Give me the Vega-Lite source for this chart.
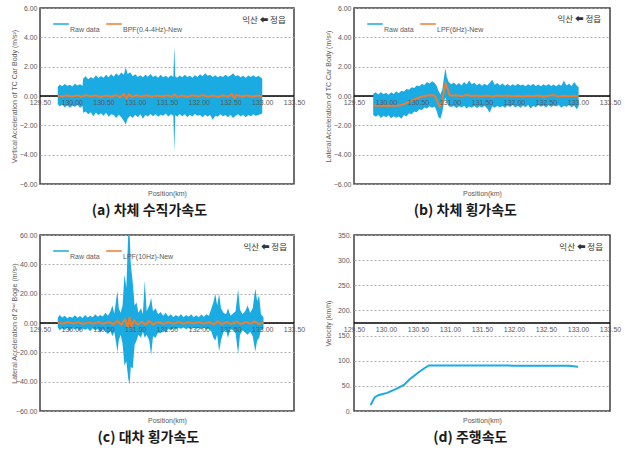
{
"$schema": "https://vega.github.io/schema/vega-lite/v6.json",
"background": "white",
"padding": {"left": 9, "top": 3, "right": 0, "bottom": 0},
"config": {
  "view": {"stroke": "#404040", "strokeWidth": 1.5},
  "font": "Liberation Sans",
  "axis": {"labelFont": "Liberation Sans", "labelFontSize": 7, "labelColor": "#595959", "titleFont": "Liberation Sans", "titleFontSize": 7, "titleColor": "#595959", "titleFontWeight": "normal", "ticks": false, "domain": false, "labelOverlap": false, "labelFlush": false, "labelBound": false, "tickCount": 30, "gridColor": "#a8a8a8", "gridDash": [2, 2], "gridWidth": 0.9},
  "axisX": {"grid": false, "zindex": 1, "offset": -88, "labelPadding": 2, "titleY": 97, "titleBaseline": "middle"},
  "axisY": {"labelPadding": 3, "titleX": -26, "titleBaseline": "middle"},
  "legend": {"orient": "none", "legendX": 13, "legendY": 8, "direction": "horizontal", "title": null, "padding": 0, "symbolType": "M-1,-0.07H1V0.07H-1Z", "symbolSize": 225, "symbolStrokeWidth": 0.5, "labelFont": "Liberation Sans", "labelFontSize": 7, "labelColor": "#595959", "labelOffset": 1, "columnPadding": 5},
  "title": {"font": "Noto Sans CJK KR", "fontSize": 14, "fontWeight": "bold", "color": "#1a1a1a", "orient": "bottom", "offset": 8, "frame": "bounds", "anchor": "middle"},
  "text": {"font": "Noto Sans CJK KR", "fontSize": 8.5, "color": "#333333"}
},
"columns": 2,
"spacing": {"row": 51, "column": 60},
"bounds": "flush",
"resolve": {"scale": {"color": "independent"}, "legend": {"color": "independent"}},
"concat": [
  {
   "width": 254, "height": 176,
   "title": {"text": "(a) 차체 수직가속도", "dx": -8},
   "layer": [
    {"data": {"values": [{"z": 0}]}, "mark": {"type": "rule", "color": "#000000", "strokeWidth": 1.5}, "encoding": {"y": {"field": "z", "type": "quantitative"}}},
    {
     "data": {"values": [
      {"x":129.78,"hi":0.62,"lo":-0.55},{"x":129.81,"hi":0.78,"lo":-0.72},{"x":129.85,"hi":0.66,"lo":-0.60},{"x":129.89,"hi":0.82,"lo":-0.78},{"x":129.93,"hi":0.70,"lo":-0.64},{"x":129.97,"hi":0.76,"lo":-0.80},{"x":130.01,"hi":0.64,"lo":-0.66},{"x":130.05,"hi":0.84,"lo":-0.74},{"x":130.09,"hi":0.72,"lo":-0.62},{"x":130.13,"hi":0.80,"lo":-0.80},{"x":130.17,"hi":0.70,"lo":-0.68},
      {"x":130.18,"hi":1.20,"lo":-1.15},{"x":130.22,"hi":1.35,"lo":-1.05},{"x":130.26,"hi":1.15,"lo":-1.25},{"x":130.30,"hi":1.30,"lo":-1.10},{"x":130.34,"hi":1.18,"lo":-1.40},{"x":130.38,"hi":1.42,"lo":-1.12},{"x":130.42,"hi":1.22,"lo":-1.30},{"x":130.46,"hi":1.36,"lo":-1.18},{"x":130.50,"hi":1.25,"lo":-1.35},{"x":130.54,"hi":1.45,"lo":-1.15},{"x":130.58,"hi":1.28,"lo":-1.42},{"x":130.62,"hi":1.50,"lo":-1.25},{"x":130.66,"hi":1.32,"lo":-1.30},{"x":130.70,"hi":1.55,"lo":-1.50},{"x":130.74,"hi":1.38,"lo":-1.28},{"x":130.78,"hi":1.60,"lo":-1.45},{"x":130.82,"hi":1.45,"lo":-1.70},{"x":130.85,"hi":1.95,"lo":-1.95},{"x":130.88,"hi":1.50,"lo":-1.55},{"x":130.92,"hi":1.62,"lo":-1.35},{"x":130.96,"hi":1.35,"lo":-1.50},
      {"x":131.00,"hi":1.48,"lo":-1.28},{"x":131.04,"hi":1.30,"lo":-1.45},{"x":131.08,"hi":1.42,"lo":-1.25},{"x":131.12,"hi":1.28,"lo":-1.55},{"x":131.16,"hi":1.45,"lo":-1.30},{"x":131.20,"hi":1.32,"lo":-1.40},{"x":131.24,"hi":1.50,"lo":-1.22},{"x":131.28,"hi":1.30,"lo":-1.38},{"x":131.32,"hi":1.40,"lo":-1.25},{"x":131.36,"hi":1.25,"lo":-1.42},{"x":131.40,"hi":1.45,"lo":-1.28},{"x":131.44,"hi":1.28,"lo":-1.35},{"x":131.48,"hi":1.38,"lo":-1.20},{"x":131.52,"hi":1.25,"lo":-1.40},{"x":131.56,"hi":1.42,"lo":-1.25},{"x":131.60,"hi":1.30,"lo":-1.35},{"x":131.615,"hi":3.40,"lo":-3.80},{"x":131.63,"hi":1.35,"lo":-1.30},{"x":131.66,"hi":1.25,"lo":-1.42},{"x":131.70,"hi":1.40,"lo":-1.22},{"x":131.74,"hi":1.28,"lo":-1.38},{"x":131.78,"hi":1.45,"lo":-1.25},{"x":131.82,"hi":1.30,"lo":-1.45},{"x":131.86,"hi":1.38,"lo":-1.28},{"x":131.90,"hi":1.25,"lo":-1.40},{"x":131.94,"hi":1.42,"lo":-1.22},{"x":131.98,"hi":1.30,"lo":-1.35},
      {"x":132.02,"hi":1.48,"lo":-1.30},{"x":132.06,"hi":1.35,"lo":-1.45},{"x":132.10,"hi":1.55,"lo":-1.28},{"x":132.14,"hi":1.38,"lo":-1.40},{"x":132.18,"hi":1.45,"lo":-1.30},{"x":132.22,"hi":1.30,"lo":-1.62},{"x":132.26,"hi":1.42,"lo":-1.35},{"x":132.30,"hi":1.28,"lo":-1.42},{"x":132.34,"hi":1.38,"lo":-1.25},{"x":132.38,"hi":1.30,"lo":-1.38},{"x":132.42,"hi":1.45,"lo":-1.30},{"x":132.46,"hi":1.32,"lo":-1.45},{"x":132.50,"hi":1.40,"lo":-1.28},{"x":132.54,"hi":1.55,"lo":-1.50},{"x":132.58,"hi":1.35,"lo":-1.35},{"x":132.62,"hi":1.42,"lo":-1.25},{"x":132.66,"hi":1.28,"lo":-1.40},{"x":132.70,"hi":1.38,"lo":-1.28},{"x":132.74,"hi":1.25,"lo":-1.45},{"x":132.78,"hi":1.40,"lo":-1.30},{"x":132.82,"hi":1.30,"lo":-1.38},{"x":132.86,"hi":1.42,"lo":-1.25},{"x":132.90,"hi":1.28,"lo":-1.35},{"x":132.94,"hi":1.38,"lo":-1.30},{"x":132.98,"hi":1.25,"lo":-1.22},{"x":133.00,"hi":1.20,"lo":-1.18}
     ]},
     "mark": {"type": "area", "clip": true},
     "encoding": {
      "x": {"field": "x", "type": "quantitative", "scale": {"domain": [129.5, 133.5], "nice": false, "zero": false}, "axis": {"values": [129.5,130,130.5,131,131.5,132,132.5,133,133.5], "tickCount": 30, "zindex": 2, "format": ".2f", "labelOverlap": false, "title": "Position(km)"}},
      "y": {"field": "hi", "type": "quantitative", "scale": {"domain": [-6, 6], "nice": false}, "axis": {"values": [-6,-4,-2,0,2,4,6], "tickCount": 30, "format": ".2f", "labelOverlap": false, "title": "Vertical Acceleration of TC Car Body (m/s²)"}},
      "y2": {"field": "lo"},
      "color": {"datum": "Raw data", "scale": {"domain": ["Raw data", "BPF(0.4-4Hz)-New"], "range": ["#1aabe3", "#ee7d31"]}, "legend": {"encode": {"labels": {"update": {"dy": {"value": 6}}}}}}
     }
    },
    {
     "data": {"values": [
      {"x":129.78,"y":0.03},{"x":129.85,"y":-0.04},{"x":129.92,"y":0.05},{"x":130.00,"y":-0.03},{"x":130.08,"y":0.04},{"x":130.15,"y":-0.05},{"x":130.22,"y":0.06},{"x":130.30,"y":-0.04},{"x":130.38,"y":0.05},{"x":130.46,"y":-0.06},{"x":130.54,"y":0.04},{"x":130.62,"y":-0.05},{"x":130.70,"y":0.07},{"x":130.76,"y":-0.08},{"x":130.82,"y":0.14},{"x":130.86,"y":-0.16},{"x":130.90,"y":0.12},{"x":130.95,"y":-0.06},{"x":131.02,"y":0.05},{"x":131.10,"y":-0.04},{"x":131.18,"y":0.05},{"x":131.26,"y":-0.05},{"x":131.34,"y":0.04},{"x":131.42,"y":-0.04},{"x":131.50,"y":0.05},{"x":131.58,"y":-0.05},{"x":131.62,"y":0.12},{"x":131.66,"y":-0.06},{"x":131.74,"y":0.04},{"x":131.82,"y":-0.05},{"x":131.90,"y":0.05},{"x":131.98,"y":-0.04},{"x":132.06,"y":0.06},{"x":132.14,"y":-0.05},{"x":132.22,"y":0.04},{"x":132.30,"y":-0.06},{"x":132.38,"y":0.05},{"x":132.46,"y":-0.05},{"x":132.52,"y":0.14},{"x":132.56,"y":-0.12},{"x":132.60,"y":0.08},{"x":132.68,"y":-0.04},{"x":132.76,"y":0.05},{"x":132.84,"y":-0.05},{"x":132.92,"y":0.04},{"x":133.00,"y":-0.02}
     ]},
     "mark": {"type": "line", "strokeWidth": 2, "clip": true},
     "encoding": {
      "x": {"field": "x", "type": "quantitative"},
      "y": {"field": "y", "type": "quantitative"},
      "color": {"datum": "BPF(0.4-4Hz)-New"}
     }
    },
    {"data": {"values": [{"x": 133.37, "y": 5.2, "t": "익산 ⬅ 정읍"}]}, "mark": {"type": "text", "align": "right", "baseline": "middle"}, "encoding": {"x": {"field": "x", "type": "quantitative"}, "y": {"field": "y", "type": "quantitative"}, "text": {"field": "t"}}}
   ]
  },
  {
   "width": 256, "height": 176,
   "title": {"text": "(b) 차체 횡가속도", "dx": -7},
   "layer": [
    {"data": {"values": [{"z": 0}]}, "mark": {"type": "rule", "color": "#000000", "strokeWidth": 1.5}, "encoding": {"y": {"field": "z", "type": "quantitative"}}},
    {
     "data": {"values": [
      {"x":129.80,"hi":0.15,"lo":-1.30},{"x":129.84,"hi":0.25,"lo":-1.42},{"x":129.88,"hi":0.10,"lo":-1.30},{"x":129.92,"hi":0.28,"lo":-1.50},{"x":129.96,"hi":0.12,"lo":-1.35},{"x":130.00,"hi":0.22,"lo":-1.45},{"x":130.04,"hi":0.08,"lo":-1.32},{"x":130.08,"hi":0.26,"lo":-1.52},{"x":130.12,"hi":0.14,"lo":-1.38},{"x":130.16,"hi":0.30,"lo":-1.48},{"x":130.20,"hi":0.18,"lo":-1.40},{"x":130.24,"hi":0.35,"lo":-1.55},{"x":130.28,"hi":0.30,"lo":-1.30},{"x":130.32,"hi":0.48,"lo":-1.40},{"x":130.36,"hi":0.42,"lo":-1.18},{"x":130.40,"hi":0.60,"lo":-1.25},{"x":130.44,"hi":0.55,"lo":-1.05},{"x":130.48,"hi":0.72,"lo":-1.10},{"x":130.52,"hi":0.66,"lo":-0.90},{"x":130.56,"hi":0.82,"lo":-0.98},{"x":130.60,"hi":0.75,"lo":-0.78},{"x":130.64,"hi":0.95,"lo":-0.85},{"x":130.68,"hi":0.85,"lo":-0.70},{"x":130.72,"hi":1.00,"lo":-0.80},{"x":130.76,"hi":0.88,"lo":-0.72},{"x":130.79,"hi":0.70,"lo":-1.00},{"x":130.82,"hi":0.35,"lo":-1.45},{"x":130.85,"hi":0.10,"lo":-1.55},{"x":130.88,"hi":0.45,"lo":-1.10},{"x":130.91,"hi":1.40,"lo":-0.30},{"x":130.93,"hi":1.90,"lo":-0.10},{"x":130.95,"hi":1.30,"lo":-0.40},{"x":130.98,"hi":0.95,"lo":-0.70},
      {"x":131.02,"hi":0.80,"lo":-0.75},{"x":131.06,"hi":0.92,"lo":-0.68},{"x":131.10,"hi":0.75,"lo":-0.82},{"x":131.14,"hi":0.88,"lo":-0.70},{"x":131.18,"hi":0.72,"lo":-0.78},{"x":131.22,"hi":0.95,"lo":-0.66},{"x":131.26,"hi":0.78,"lo":-0.85},{"x":131.30,"hi":1.05,"lo":-0.72},{"x":131.34,"hi":0.80,"lo":-0.80},{"x":131.38,"hi":0.90,"lo":-0.68},{"x":131.42,"hi":0.74,"lo":-0.82},{"x":131.46,"hi":0.86,"lo":-0.70},{"x":131.50,"hi":0.70,"lo":-0.78},{"x":131.54,"hi":0.84,"lo":-0.66},{"x":131.58,"hi":0.72,"lo":-0.85},{"x":131.62,"hi":0.90,"lo":-1.15},{"x":131.66,"hi":1.10,"lo":-0.70},{"x":131.70,"hi":0.76,"lo":-0.80},{"x":131.74,"hi":0.88,"lo":-0.66},{"x":131.78,"hi":0.72,"lo":-0.78},{"x":131.82,"hi":0.85,"lo":-0.68},{"x":131.86,"hi":0.70,"lo":-0.80},{"x":131.90,"hi":0.82,"lo":-0.65},{"x":131.94,"hi":0.68,"lo":-0.75},{"x":131.98,"hi":0.80,"lo":-0.62},
      {"x":132.02,"hi":0.70,"lo":-0.78},{"x":132.06,"hi":0.84,"lo":-0.66},{"x":132.10,"hi":0.72,"lo":-0.80},{"x":132.14,"hi":0.78,"lo":-0.64},{"x":132.18,"hi":0.66,"lo":-0.76},{"x":132.22,"hi":0.80,"lo":-0.62},{"x":132.26,"hi":0.70,"lo":-0.85},{"x":132.30,"hi":0.84,"lo":-0.66},{"x":132.34,"hi":0.68,"lo":-0.76},{"x":132.38,"hi":0.78,"lo":-0.62},{"x":132.42,"hi":0.66,"lo":-0.74},{"x":132.46,"hi":0.80,"lo":-0.64},{"x":132.50,"hi":0.70,"lo":-0.78},{"x":132.54,"hi":0.82,"lo":-0.62},{"x":132.58,"hi":0.68,"lo":-0.75},{"x":132.62,"hi":0.78,"lo":-0.64},{"x":132.66,"hi":0.66,"lo":-0.72},{"x":132.70,"hi":0.80,"lo":-0.62},{"x":132.74,"hi":0.70,"lo":-0.80},{"x":132.78,"hi":1.05,"lo":-0.66},{"x":132.82,"hi":0.72,"lo":-0.74},{"x":132.86,"hi":0.84,"lo":-0.62},{"x":132.90,"hi":0.68,"lo":-0.76},{"x":132.94,"hi":0.95,"lo":-0.64},{"x":132.98,"hi":0.72,"lo":-0.90},{"x":133.01,"hi":0.60,"lo":-0.70}
     ]},
     "mark": {"type": "area", "clip": true},
     "encoding": {
      "x": {"field": "x", "type": "quantitative", "scale": {"domain": [129.5, 133.5], "nice": false, "zero": false}, "axis": {"values": [129.5,130,130.5,131,131.5,132,132.5,133,133.5], "tickCount": 30, "zindex": 2, "format": ".2f", "labelOverlap": false, "title": "Position(km)"}},
      "y": {"field": "hi", "type": "quantitative", "scale": {"domain": [-6, 6], "nice": false}, "axis": {"values": [-6,-4,-2,0,2,4,6], "tickCount": 30, "format": ".2f", "labelOverlap": false, "title": "Lateral Acceleration of TC Car Body (m/s²)"}},
      "y2": {"field": "lo"},
      "color": {"datum": "Raw data", "scale": {"domain": ["Raw data", "LPF(6Hz)-New"], "range": ["#1aabe3", "#ee7d31"]}, "legend": {"encode": {"labels": {"update": {"dy": {"value": 6}}}}}}
     }
    },
    {
     "data": {"values": [
      {"x":129.80,"y":-0.65},{"x":129.90,"y":-0.66},{"x":130.00,"y":-0.64},{"x":130.10,"y":-0.66},{"x":130.20,"y":-0.64},{"x":130.25,"y":-0.60},{"x":130.30,"y":-0.52},{"x":130.35,"y":-0.42},{"x":130.40,"y":-0.32},{"x":130.45,"y":-0.22},{"x":130.50,"y":-0.14},{"x":130.55,"y":-0.06},{"x":130.60,"y":0.00},{"x":130.65,"y":0.03},{"x":130.70,"y":0.05},{"x":130.75,"y":0.04},{"x":130.78,"y":-0.10},{"x":130.81,"y":-0.45},{"x":130.84,"y":-0.72},{"x":130.87,"y":-0.55},{"x":130.90,"y":0.20},{"x":130.93,"y":0.85},{"x":130.96,"y":0.55},{"x":130.99,"y":0.10},{"x":131.02,"y":0.02},{"x":131.10,"y":0.05},{"x":131.18,"y":-0.02},{"x":131.26,"y":0.06},{"x":131.34,"y":0.00},{"x":131.42,"y":0.04},{"x":131.50,"y":-0.02},{"x":131.58,"y":0.03},{"x":131.66,"y":-0.03},{"x":131.74,"y":0.04},{"x":131.82,"y":0.00},{"x":131.90,"y":0.03},{"x":131.98,"y":-0.02},{"x":132.06,"y":0.02},{"x":132.14,"y":-0.03},{"x":132.22,"y":0.02},{"x":132.30,"y":-0.02},{"x":132.38,"y":0.03},{"x":132.46,"y":-0.03},{"x":132.54,"y":0.02},{"x":132.62,"y":0.06},{"x":132.70,"y":-0.03},{"x":132.78,"y":0.02},{"x":132.86,"y":-0.02},{"x":132.94,"y":0.02},{"x":133.01,"y":-0.02}
     ]},
     "mark": {"type": "line", "strokeWidth": 2, "clip": true},
     "encoding": {
      "x": {"field": "x", "type": "quantitative"},
      "y": {"field": "y", "type": "quantitative"},
      "color": {"datum": "LPF(6Hz)-New"}
     }
    },
    {"data": {"values": [{"x": 133.36, "y": 5.23, "t": "익산 ⬅ 정읍"}]}, "mark": {"type": "text", "align": "right", "baseline": "middle"}, "encoding": {"x": {"field": "x", "type": "quantitative"}, "y": {"field": "y", "type": "quantitative"}, "text": {"field": "t"}}}
   ]
  },
  {
   "width": 254, "height": 176,
   "title": {"text": "(c) 대차 횡가속도", "dx": -9},
   "layer": [
    {"data": {"values": [{"z": 0}]}, "mark": {"type": "rule", "color": "#000000", "strokeWidth": 1.5}, "encoding": {"y": {"field": "z", "type": "quantitative"}}},
    {
     "data": {"values": [
      {"x":129.78,"hi":3.5,"lo":-3.0},{"x":129.81,"hi":5.5,"lo":-5.0},{"x":129.85,"hi":3.8,"lo":-3.5},{"x":129.89,"hi":5.0,"lo":-4.8},{"x":129.93,"hi":3.2,"lo":-3.2},{"x":129.97,"hi":4.5,"lo":-5.5},{"x":130.01,"hi":3.5,"lo":-3.4},{"x":130.05,"hi":5.2,"lo":-4.5},{"x":130.09,"hi":3.6,"lo":-3.6},{"x":130.13,"hi":4.8,"lo":-5.2},{"x":130.17,"hi":3.4,"lo":-3.5},{"x":130.21,"hi":5.5,"lo":-4.6},{"x":130.25,"hi":3.8,"lo":-3.8},{"x":130.29,"hi":5.0,"lo":-5.6},{"x":130.33,"hi":4.0,"lo":-3.6},{"x":130.37,"hi":6.0,"lo":-5.0},{"x":130.41,"hi":4.2,"lo":-4.0},{"x":130.45,"hi":5.5,"lo":-6.5},{"x":130.49,"hi":4.5,"lo":-4.2},{"x":130.53,"hi":7.0,"lo":-6.0},{"x":130.57,"hi":5.0,"lo":-7.5},{"x":130.61,"hi":8.0,"lo":-5.5},{"x":130.64,"hi":12.0,"lo":-9.0},{"x":130.67,"hi":6.5,"lo":-6.0},{"x":130.70,"hi":16.0,"lo":-14.0},{"x":130.72,"hi":22.0,"lo":-20.0},{"x":130.74,"hi":10.0,"lo":-12.0},{"x":130.77,"hi":7.0,"lo":-8.0},{"x":130.80,"hi":12.0,"lo":-14.0},{"x":130.83,"hi":33.0,"lo":-29.0},{"x":130.86,"hi":24.0,"lo":-26.0},{"x":130.89,"hi":62.0,"lo":-38.0},{"x":130.91,"hi":62.0,"lo":-42.0},{"x":130.93,"hi":40.0,"lo":-30.0},{"x":130.96,"hi":28.0,"lo":-31.0},{"x":130.99,"hi":12.0,"lo":-15.0},
      {"x":131.02,"hi":14.0,"lo":-12.0},{"x":131.05,"hi":7.0,"lo":-8.0},{"x":131.09,"hi":10.0,"lo":-10.0},{"x":131.12,"hi":6.0,"lo":-6.0},{"x":131.15,"hi":29.0,"lo":-10.0},{"x":131.18,"hi":8.0,"lo":-8.0},{"x":131.22,"hi":12.0,"lo":-12.0},{"x":131.25,"hi":17.0,"lo":-22.0},{"x":131.28,"hi":8.0,"lo":-9.0},{"x":131.32,"hi":10.0,"lo":-10.0},{"x":131.36,"hi":6.0,"lo":-6.5},{"x":131.40,"hi":7.5,"lo":-7.0},{"x":131.44,"hi":5.0,"lo":-5.0},{"x":131.48,"hi":7.0,"lo":-6.5},{"x":131.52,"hi":4.5,"lo":-4.0},{"x":131.56,"hi":6.0,"lo":-5.0},{"x":131.60,"hi":4.0,"lo":-3.5},{"x":131.64,"hi":5.5,"lo":-4.5},{"x":131.68,"hi":4.2,"lo":-3.2},{"x":131.72,"hi":6.0,"lo":-4.0},{"x":131.76,"hi":4.0,"lo":-3.0},{"x":131.80,"hi":5.5,"lo":-4.2},{"x":131.84,"hi":4.2,"lo":-3.2},{"x":131.88,"hi":6.0,"lo":-4.5},{"x":131.92,"hi":4.0,"lo":-3.0},{"x":131.96,"hi":5.2,"lo":-4.0},
      {"x":132.00,"hi":4.0,"lo":-3.2},{"x":132.04,"hi":5.8,"lo":-4.5},{"x":132.08,"hi":4.2,"lo":-3.0},{"x":132.12,"hi":6.0,"lo":-4.2},{"x":132.16,"hi":5.0,"lo":-4.0},{"x":132.20,"hi":10.0,"lo":-6.0},{"x":132.23,"hi":14.0,"lo":-10.0},{"x":132.26,"hi":20.0,"lo":-12.0},{"x":132.29,"hi":12.0,"lo":-8.0},{"x":132.32,"hi":20.0,"lo":-19.5},{"x":132.35,"hi":10.0,"lo":-12.0},{"x":132.39,"hi":7.0,"lo":-6.0},{"x":132.43,"hi":6.0,"lo":-5.0},{"x":132.46,"hi":10.0,"lo":-10.0},{"x":132.50,"hi":5.0,"lo":-4.0},{"x":132.54,"hi":6.5,"lo":-5.0},{"x":132.58,"hi":8.0,"lo":-7.0},{"x":132.62,"hi":23.0,"lo":-21.0},{"x":132.65,"hi":9.0,"lo":-8.0},{"x":132.69,"hi":6.0,"lo":-5.0},{"x":132.73,"hi":8.0,"lo":-6.5},{"x":132.77,"hi":12.0,"lo":-8.0},{"x":132.81,"hi":7.0,"lo":-6.0},{"x":132.85,"hi":10.0,"lo":-9.0},{"x":132.89,"hi":23.5,"lo":-19.5},{"x":132.92,"hi":15.0,"lo":-12.0},{"x":132.95,"hi":19.0,"lo":-10.0},{"x":132.98,"hi":6.0,"lo":-5.0},{"x":133.02,"hi":4.0,"lo":-3.5}
     ]},
     "mark": {"type": "area", "clip": true},
     "encoding": {
      "x": {"field": "x", "type": "quantitative", "scale": {"domain": [129.5, 133.5], "nice": false, "zero": false}, "axis": {"values": [129.5,130,130.5,131,131.5,132,132.5,133,133.5], "tickCount": 30, "zindex": 2, "format": ".2f", "labelOverlap": false, "title": "Position(km)"}},
      "y": {"field": "hi", "type": "quantitative", "scale": {"domain": [-60, 60], "nice": false}, "axis": {"values": [-60,-40,-20,0,20,40,60], "tickCount": 30, "format": ".2f", "labelOverlap": false, "title": "Lateral Acceleration of 2ⁿᵈ Bogie (m/s²)"}},
      "y2": {"field": "lo"},
      "color": {"datum": "Raw data", "scale": {"domain": ["Raw data", "LPF(10Hz)-New"], "range": ["#1aabe3", "#ee7d31"]}, "legend": {"encode": {"labels": {"update": {"dy": {"value": 6}}}}}}
     }
    },
    {
     "data": {"values": [
      {"x":129.78,"y":0.3},{"x":129.86,"y":-0.5},{"x":129.94,"y":0.6},{"x":130.02,"y":-0.4},{"x":130.10,"y":0.5},{"x":130.18,"y":-0.6},{"x":130.26,"y":0.4},{"x":130.34,"y":-0.5},{"x":130.42,"y":0.6},{"x":130.50,"y":-0.6},{"x":130.58,"y":0.8},{"x":130.66,"y":-0.9},{"x":130.72,"y":1.5},{"x":130.78,"y":-1.2},{"x":130.84,"y":2.5},{"x":130.88,"y":-3.0},{"x":130.91,"y":4.2},{"x":130.94,"y":-2.5},{"x":130.98,"y":1.8},{"x":131.04,"y":-1.0},{"x":131.10,"y":0.8},{"x":131.16,"y":-1.2},{"x":131.22,"y":1.5},{"x":131.28,"y":-1.0},{"x":131.36,"y":0.7},{"x":131.44,"y":-0.6},{"x":131.52,"y":0.5},{"x":131.60,"y":-0.5},{"x":131.68,"y":0.6},{"x":131.76,"y":-0.5},{"x":131.84,"y":0.5},{"x":131.92,"y":-0.4},{"x":132.00,"y":0.5},{"x":132.08,"y":-0.5},{"x":132.16,"y":0.6},{"x":132.24,"y":-0.9},{"x":132.30,"y":1.2},{"x":132.36,"y":-0.8},{"x":132.44,"y":0.6},{"x":132.52,"y":-0.6},{"x":132.60,"y":1.0},{"x":132.66,"y":-0.8},{"x":132.74,"y":0.6},{"x":132.82,"y":-0.5},{"x":132.88,"y":1.0},{"x":132.94,"y":-0.8},{"x":133.02,"y":0.3}
     ]},
     "mark": {"type": "line", "strokeWidth": 2, "clip": true},
     "encoding": {
      "x": {"field": "x", "type": "quantitative"},
      "y": {"field": "y", "type": "quantitative"},
      "color": {"datum": "LPF(10Hz)-New"}
     }
    },
    {"data": {"values": [{"x": 133.39, "y": 51.8, "t": "익산 ⬅ 정읍"}]}, "mark": {"type": "text", "align": "right", "baseline": "middle"}, "encoding": {"x": {"field": "x", "type": "quantitative"}, "y": {"field": "y", "type": "quantitative"}, "text": {"field": "t"}}}
   ]
  },
  {
   "width": 256, "height": 176,
   "title": {"text": "(d) 주행속도", "dx": -2},
   "layer": [
    {"data": {"values": [{"z": 175}]}, "mark": {"type": "rule", "color": "#000000", "strokeWidth": 1.5}, "encoding": {"y": {"field": "z", "type": "quantitative"}}},
    {
     "data": {"values": [
      {"x":129.76,"v":12},{"x":129.80,"v":22},{"x":129.83,"v":28},{"x":129.89,"v":32},{"x":130.02,"v":36},{"x":130.16,"v":44},{"x":130.28,"v":52},{"x":130.37,"v":63},{"x":130.50,"v":76},{"x":130.60,"v":85},{"x":130.67,"v":90.5},{"x":131.00,"v":90.5},{"x":131.50,"v":90.5},{"x":132.00,"v":90.2},{"x":132.44,"v":90.2},{"x":132.86,"v":90},{"x":133.00,"v":88}
     ]},
     "mark": {"type": "line", "strokeWidth": 2, "color": "#1aabe3", "clip": true},
     "encoding": {
      "x": {"field": "x", "type": "quantitative", "scale": {"domain": [129.5, 133.5], "nice": false, "zero": false}, "axis": {"values": [129.5,130,130.5,131,131.5,132,132.5,133,133.5], "tickCount": 30, "zindex": 2, "format": ".2f", "labelOverlap": false, "title": "Position(km)"}},
      "y": {"field": "v", "type": "quantitative", "scale": {"domain": [0, 350], "nice": false}, "axis": {"values": [0,50,100,150,200,250,300,350], "tickCount": 30, "labelExpr": "format(datum.value, 'd') + '.'", "labelOverlap": false, "title": "Velocity (km/h)"}}
     }
    },
    {"data": {"values": [{"x": 133.39, "y": 327, "t": "익산 ⬅ 정읍"}]}, "mark": {"type": "text", "align": "right", "baseline": "middle"}, "encoding": {"x": {"field": "x", "type": "quantitative"}, "y": {"field": "y", "type": "quantitative"}, "text": {"field": "t"}}}
   ]
  }
]
}
